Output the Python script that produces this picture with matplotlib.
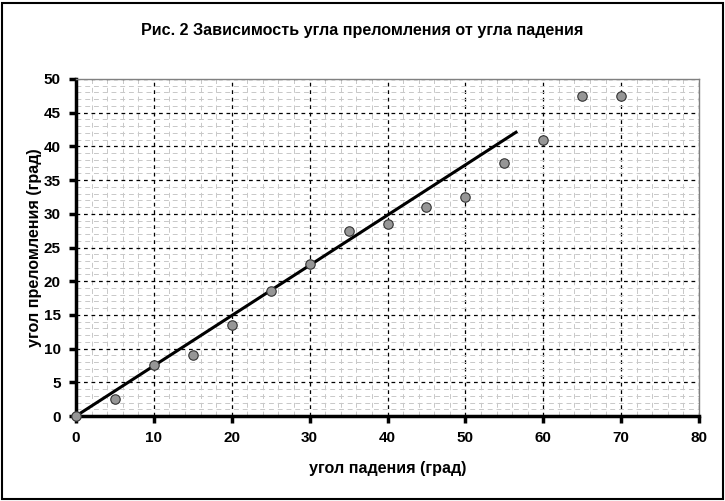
import matplotlib.pyplot as plt
import numpy as np
from matplotlib.patches import Rectangle

# measured points
angle_in = [0, 5, 10, 15, 20, 25, 30, 35, 40, 45, 50, 55, 60, 65, 70]
angle_out = [0, 2.5, 7.5, 9, 13.5, 18.5, 22.5, 27.5, 28.5, 31, 32.5, 37.5, 41, 47.5, 47.5]

# trend line ends
fit_x = [0, 56.5]
fit_y = [0, 42.1]

plt.rcParams['font.family'] = ['Liberation Sans', 'DejaVu Sans']

fig = plt.figure(figsize=(7.25, 5.01), dpi=100)
ax = fig.add_axes([76 / 725, 85 / 501, 623 / 725, 337 / 501])

ax.set_xlim(0, 80)
ax.set_ylim(0, 50)
ax.set_xticks(np.arange(0, 81, 10))
ax.set_yticks(np.arange(0, 51, 5))
ax.set_xticks(np.arange(0, 81, 2), minor=True)
ax.set_yticks(np.arange(0, 51, 1), minor=True)

ax.grid(which='minor', color='#c8c8c8', linestyle=(0, (5, 4)), linewidth=0.7)
ax.grid(which='major', color='black', linestyle=(0, (3, 3)), linewidth=0.9)
ax.set_axisbelow(True)

ax.plot(fit_x, fit_y, color='black', linewidth=2.2, zorder=3)
ax.plot(angle_in, angle_out, linestyle='none', marker='o', markersize=6.8,
        markerfacecolor='#969696', markeredgecolor='#333333', markeredgewidth=0.8,
        clip_on=False, zorder=4)

for side in ('top', 'right'):
    ax.spines[side].set_color('#808080')
    ax.spines[side].set_linewidth(1.0)
for side in ('left', 'bottom'):
    ax.spines[side].set_color('black')
    ax.spines[side].set_linewidth(2.5)

ax.tick_params(which='major', direction='out', length=5, width=2.5,
               labelsize=11)
ax.tick_params(which='minor', length=0)
for lab in ax.get_xticklabels() + ax.get_yticklabels():
    lab.set_fontweight('bold')
ax.tick_params(axis='x', pad=6)
ax.tick_params(axis='y', pad=6)

ax.set_xlabel('угол падения (град)', fontsize=11.6, fontweight='bold', labelpad=11)
ax.set_ylabel('угол преломления (град)', fontsize=11.6, fontweight='bold', labelpad=1)
fig.text(0.5, 1 - 30 / 501, 'Рис. 2 Зависимость угла преломления от угла падения',
         ha='center', va='center', fontsize=11.6, fontweight='bold')

fig.patches.append(Rectangle((2 / 725, 2 / 501), 721 / 725, 496 / 501,
                             transform=fig.transFigure, fill=False,
                             edgecolor='black', linewidth=1.5))

fig.savefig('out.png', dpi=100)
